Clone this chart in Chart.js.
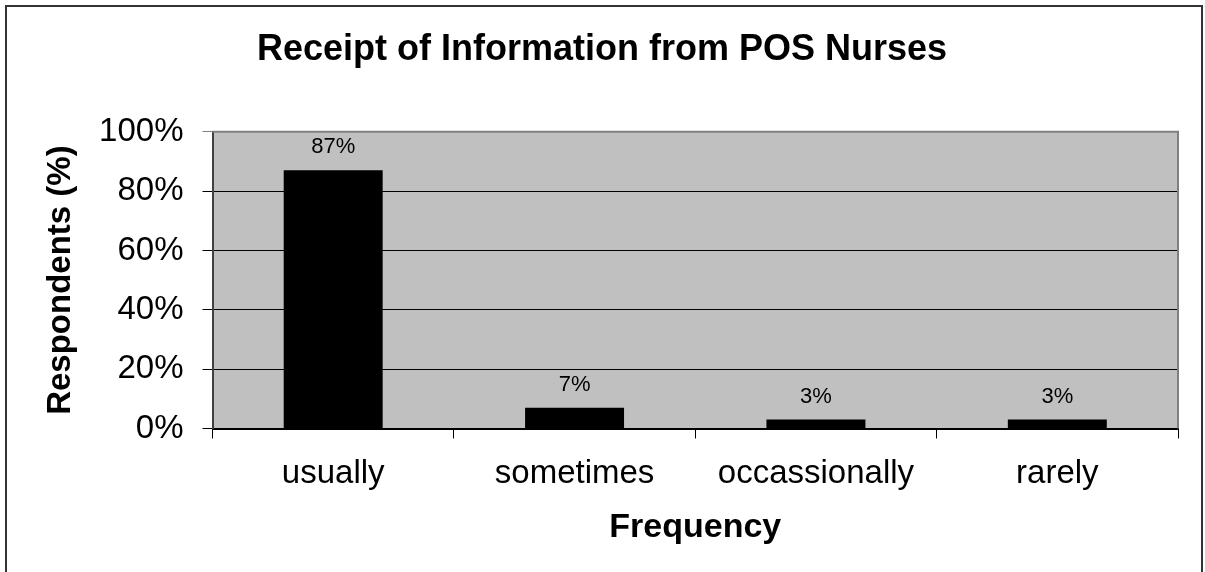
<!DOCTYPE html>
<html>
<head>
<meta charset="utf-8">
<script src="https://cdn.jsdelivr.net/npm/chart.js@4.4.1/dist/chart.umd.min.js"></script>
<style>
  html, body { margin: 0; padding: 0; background: #fff; }
  #wrap { width: 1205px; height: 572px; position: relative; }
</style>
</head>
<body>
<div id="wrap"><canvas id="chart" width="1205" height="572"></canvas></div>
<script>
// Survey answers: how often information is received from POS nurses
const categories = ['usually', 'sometimes', 'occassionally', 'rarely'];
const respondentsPct = [87, 7, 3, 3];
const yTicks = [0, 20, 40, 60, 80, 100];
const chartTitle = 'Receipt of Information from POS Nurses';

const FONT = "'Liberation Sans', Arial, Helvetica, sans-serif";

// Grey plot panel, its frame, the outer figure frame and the heading
const panelPlugin = {
  id: 'panel',
  beforeDraw(chart) {
    const { ctx, chartArea: a } = chart;
    ctx.save();
    ctx.fillStyle = '#c0c0c0';
    ctx.fillRect(a.left, a.top, a.right - a.left, a.bottom - a.top);
    ctx.restore();
  },
  afterDraw(chart) {
    const { ctx, chartArea: a } = chart;
    ctx.save();
    // panel frame: grey top and right edges
    ctx.strokeStyle = '#808080';
    ctx.lineWidth = 2;
    ctx.beginPath();
    ctx.moveTo(a.left, a.top);
    ctx.lineTo(a.right, a.top);
    ctx.lineTo(a.right, a.bottom);
    ctx.stroke();
    // outer figure frame (open at the bottom)
    ctx.strokeStyle = '#333333';
    ctx.lineWidth = 2;
    ctx.beginPath();
    ctx.moveTo(6, chart.height);
    ctx.lineTo(6, 6);
    ctx.lineTo(1202, 6);
    ctx.lineTo(1202, chart.height);
    ctx.stroke();
    // heading, centred on the figure
    ctx.fillStyle = '#000';
    ctx.font = 'bold 36px ' + FONT;
    ctx.textAlign = 'center';
    ctx.textBaseline = 'middle';
    ctx.fillText(chartTitle, 602, 50);
    ctx.restore();
  }
};

// Percentage label above each bar
const valueLabels = {
  id: 'valueLabels',
  afterDatasetsDraw(chart) {
    const { ctx } = chart;
    const meta = chart.getDatasetMeta(0);
    ctx.save();
    ctx.font = '22px ' + FONT;
    ctx.fillStyle = '#000';
    ctx.textAlign = 'center';
    ctx.textBaseline = 'middle';
    meta.data.forEach((bar, i) => {
      ctx.fillText(respondentsPct[i] + '%', bar.x, bar.y - 23);
    });
    ctx.restore();
  }
};

new Chart(document.getElementById('chart'), {
  type: 'bar',
  data: {
    labels: categories,
    datasets: [{
      data: respondentsPct,
      backgroundColor: '#000000',
      borderColor: '#000000',
      borderWidth: 0,
      categoryPercentage: 1.0,
      barPercentage: 0.41
    }]
  },
  options: {
    responsive: false,
    animation: false,
    layout: { padding: { left: 0, right: 27, top: 131.7, bottom: 0 } },
    plugins: {
      legend: { display: false },
      tooltip: { enabled: false },
      title: { display: false }
    },
    scales: {
      x: {
        grid: {
          display: true,
          drawOnChartArea: false,
          drawTicks: true,
          tickLength: 10,
          color: '#000',
          lineWidth: 1,
          offset: true
        },
        border: { display: true, color: '#000', width: 2 },
        ticks: {
          color: '#000',
          font: { family: FONT, size: 33 },
          padding: 16,
          maxRotation: 0
        },
        title: {
          display: true,
          text: 'Frequency',
          color: '#000',
          font: { family: FONT, size: 34, weight: 'bold', lineHeight: 1.2 },
          padding: { top: 0, bottom: 24 }
        },
        afterFit(scale) { scale.height = 143.5; }
      },
      y: {
        min: 0,
        max: 100,
        afterBuildTicks(scale) { scale.ticks = yTicks.map(v => ({ value: v })); },
        grid: {
          color: (c) => (c.tick && c.tick.value === 100 ? '#808080' : '#000'),
          lineWidth: 1,
          drawTicks: true,
          tickLength: 10
        },
        border: { display: true, color: '#404040', width: 2 },
        ticks: {
          color: '#000',
          font: { family: FONT, size: 33 },
          padding: 19,
          callback: (v) => v + '%'
        },
        title: {
          display: true,
          text: 'Respondents (%)',
          color: '#000',
          font: { family: FONT, size: 33, weight: 'bold', lineHeight: 1.2 },
          padding: { top: 41, bottom: 0 }
        },
        afterFit(scale) { scale.width = 212.5; }
      }
    }
  },
  plugins: [panelPlugin, valueLabels]
});
</script>
</body>
</html>
